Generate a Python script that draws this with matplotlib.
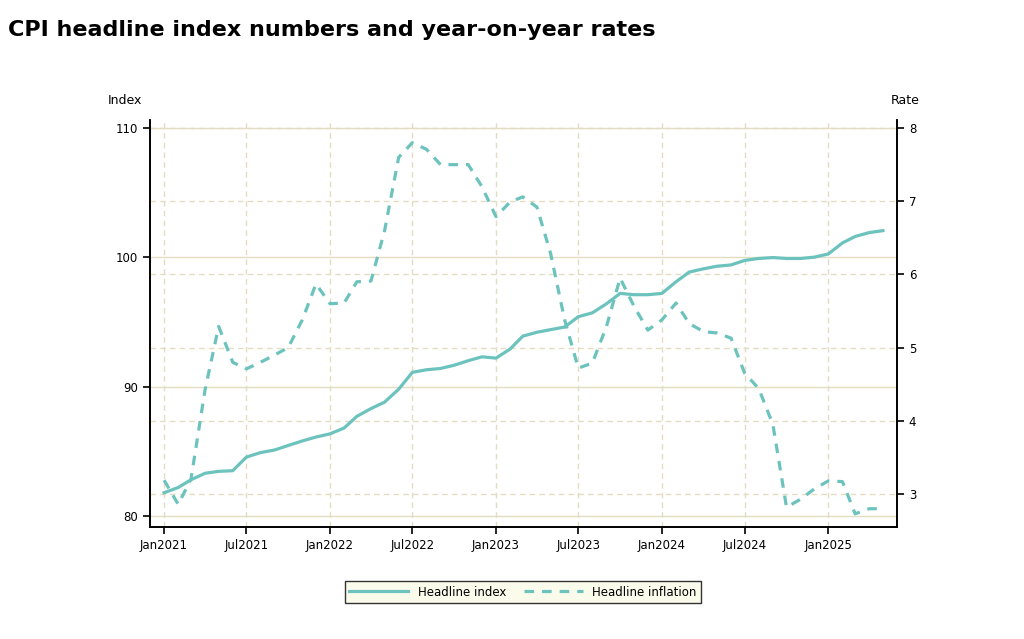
import numpy as np
import pandas as pd
import matplotlib
matplotlib.use("Agg")
import matplotlib.pyplot as plt
import matplotlib.dates as mdates

months = pd.date_range("2021-01-01", "2025-05-01", freq="MS")

headline_index = [
    81.8, 82.2, 82.8, 83.3, 83.45, 83.5, 84.55, 84.9, 85.1, 85.45, 85.8, 86.1,
    86.35, 86.8, 87.7, 88.3, 88.8, 89.8, 91.1, 91.3, 91.4, 91.65, 92.0, 92.3,
    92.2, 92.9, 93.9, 94.2, 94.4, 94.6, 95.4, 95.7, 96.4, 97.2, 97.1, 97.1,
    97.2, 98.1, 98.85, 99.1, 99.3, 99.4, 99.75, 99.9, 99.97, 99.9, 99.9, 100.0,
    100.25, 101.1, 101.6, 101.9, 102.05,
]
headline_inflation = [
    3.19, 2.86, 3.2, 4.42, 5.29, 4.8, 4.71, 4.8, 4.9, 5.0, 5.38, 5.87,
    5.6, 5.61, 5.9, 5.91, 6.6, 7.6, 7.8, 7.71, 7.5, 7.5, 7.5, 7.2,
    6.79, 6.99, 7.06, 6.92, 6.29, 5.38, 4.72, 4.79, 5.29, 5.95, 5.56, 5.24,
    5.38, 5.61, 5.33, 5.22, 5.2, 5.13, 4.65, 4.44, 3.95, 2.82, 2.93, 3.07,
    3.18, 3.17, 2.73, 2.8, 2.8,
]

teal = "#6cc3bd"
grid_c = "#e3dcc0"

fig = plt.figure(figsize=(10.24, 6.39), dpi=100)
ax = fig.add_axes([150 / 1024, 1 - 527 / 639, 747 / 1024, 407 / 639])
ax2 = ax.twinx()

ax.set_ylim(79.15, 110.6)
ax2.set_ylim(2.55, 8.11)
ax.set_xlim(pd.Timestamp("2020-12-01"), pd.Timestamp("2025-06-01"))

ax.set_yticks([80, 90, 100, 110])
ax2.set_yticks([3, 4, 5, 6, 7, 8])
ticks = pd.to_datetime(["2021-01-01", "2021-07-01", "2022-01-01", "2022-07-01", "2023-01-01",
                        "2023-07-01", "2024-01-01", "2024-07-01", "2025-01-01"])
ax.set_xticks(ticks)
ax.xaxis.set_major_formatter(mdates.DateFormatter("%b%Y"))

ax.grid(axis="y", color=grid_c, lw=1, ls="-")
ax.grid(axis="x", color=grid_c, lw=1, ls=(0, (4, 3)))
ax2.grid(axis="y", color=grid_c, lw=1, ls=(0, (4, 3)))
ax.set_axisbelow(True)
ax2.set_axisbelow(True)

l1, = ax2.plot(months, headline_index, color=teal, lw=2.3, label="Headline index",
               transform=ax.transData)
l2, = ax2.plot(months, headline_inflation, color=teal, lw=2.3, ls=(0, (3, 2.5)),
               label="Headline inflation")

for a in (ax, ax2):
    a.tick_params(labelsize=8.5, length=5, width=1.2)
    for s in a.spines.values():
        s.set_linewidth(1.2)
ax.spines["top"].set_visible(False)
ax2.spines["top"].set_visible(False)

fig.text(108 / 1024, 1 - 100 / 639, "Index", fontsize=9, ha="left", va="center")
fig.text(920 / 1024, 1 - 100 / 639, "Rate", fontsize=9, ha="right", va="center")
fig.text(8 / 1024, 1 - 30 / 639, "CPI headline index numbers and year-on-year rates",
         fontsize=16, fontweight="bold", ha="left", va="center")

leg = fig.legend(handles=[l1, l2], loc="center", bbox_to_anchor=(523 / 1024, 1 - 592 / 639),
                 ncol=2, fontsize=8.5, frameon=True, fancybox=False, handlelength=5,
                 columnspacing=1.5)
leg.get_frame().set_facecolor("#fafae8")
leg.get_frame().set_edgecolor("black")

fig.savefig("out.png", dpi=100)
